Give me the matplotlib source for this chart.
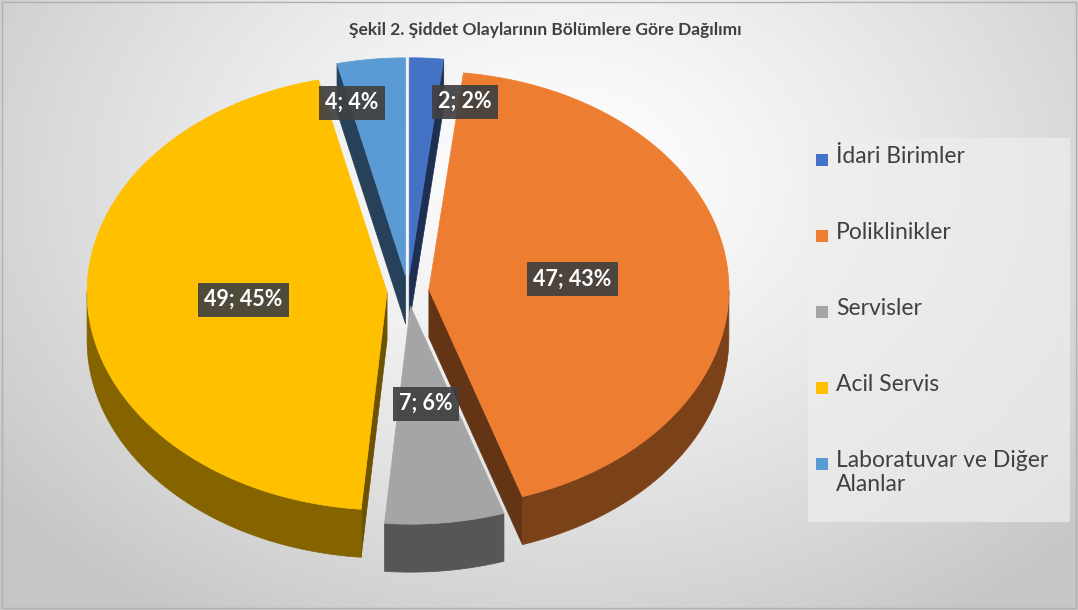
import numpy as np
import matplotlib
matplotlib.use("Agg")
import matplotlib.pyplot as plt
from matplotlib.colors import to_rgb
from matplotlib.patches import Polygon, Rectangle

# chart data
categories = ["İdari Birimler", "Poliklinikler", "Servisler", "Acil Servis", "Laboratuvar ve Diğer\nAlanlar"]
counts = [2, 47, 7, 49, 4]
colors = ["#4472C4", "#ED7D31", "#A5A5A5", "#FFC000", "#5B9BD5"]
title = "Şekil 2. Şiddet Olaylarının Bölümlere Göre Dağılımı"

# layout (pixels)
W, H = 1078, 610
CX, CY = 408, 291
RX, RY = 300, 218
DEPTH = 48
EXPLODE = 0.07
FONT = ["Lato", "DejaVu Sans"]


def darken(c, f):
    r, g, b = to_rgb(c)
    return (r * f, g * f, b * f)


def rim(theta, r, ox, oy, z=0.0):
    t = np.radians(theta)
    return CX + ox + r * RX * np.cos(t), CY + oy - r * RY * np.sin(t) + z


fig = plt.figure(figsize=(W / 100, H / 100), dpi=100)
ax = fig.add_axes([0, 0, 1, 1])
ax.set_xlim(0, W)
ax.set_ylim(H, 0)
ax.axis("off")

# background gradient
yy, xx = np.mgrid[0:H, 0:W]
d = np.sqrt(((xx - 560) / 700.0) ** 2 + ((yy - 180) / 520.0) ** 2)
shade = 1.0 - 0.22 * np.clip(d, 0, 1) ** 1.3
ax.imshow(np.dstack([shade] * 3), extent=(0, W, H, 0), zorder=0, aspect="auto")
ax.add_patch(Rectangle((2, 2), W - 4, H - 4, fill=False, ec="#B0B0B0", lw=1, zorder=1))

total = sum(counts)
starts = 90 - 360 * np.cumsum([0] + counts[:-1]) / total
ends = starts - 360 * np.array(counts) / total
mids = (starts + ends) / 2

# back-to-front drawing order
order = sorted(range(len(counts)), key=lambda i: -np.sin(np.radians(mids[i])))
for i in order:
    a0, a1, m = starts[i], ends[i], mids[i]
    ox = EXPLODE * RX * np.cos(np.radians(m))
    oy = -EXPLODE * RY * np.sin(np.radians(m))
    side = darken(colors[i], 0.42)
    wall = darken(colors[i], 0.52)
    # visible cut faces
    for a, vis in ((a0, np.cos(np.radians(a0)) < -1e-6), (a1, np.cos(np.radians(a1)) > 1e-6)):
        if vis:
            pts = [rim(a, 0, ox, oy), rim(a, 1, ox, oy), rim(a, 1, ox, oy, DEPTH), rim(a, 0, ox, oy, DEPTH)]
            ax.add_patch(Polygon(pts, closed=True, fc=side, ec=side, lw=0.5, zorder=2))
    # outer wall on the front half
    th = np.linspace(a1, a0, 300)
    front = th[np.sin(np.radians(th)) < 0]
    if len(front) > 1:
        tx, ty = rim(front, 1, ox, oy)
        bx, by = rim(front, 1, ox, oy, DEPTH)
        pts = np.column_stack([np.r_[tx, bx[::-1]], np.r_[ty, by[::-1]]])
        ax.add_patch(Polygon(pts, closed=True, fc=wall, ec=wall, lw=0.5, zorder=2))
    # top face
    px, py = rim(th, 1, ox, oy)
    cx0, cy0 = rim(m, 0, ox, oy)
    pts = np.column_stack([np.r_[cx0, px], np.r_[cy0, py]])
    ax.add_patch(Polygon(pts, closed=True, fc=colors[i], ec=colors[i], lw=0.5, zorder=2))

# data labels
label_r = [0.87, 0.55, 0.52, 0.55, 0.87]
label_dx = [42, 0, 0, 0, -26]
for i in range(len(counts)):
    m = mids[i]
    x, y = rim(m, label_r[i], 0, 0)
    pct = round(100 * counts[i] / total)
    ax.text(x + label_dx[i], y, f"{counts[i]}; {pct}%", ha="center", va="center",
            fontsize=15.5, fontweight="bold", color="white", family=FONT, zorder=5,
            bbox=dict(boxstyle="square,pad=0.3", fc="#404040", ec="none", alpha=0.92))

ax.text(545, 30, title, ha="center", va="center", fontsize=12.5, fontweight="bold",
        color="#404040", family=FONT, zorder=5)

# legend
ax.add_patch(Rectangle((808, 138), 262, 384, fc="#EEEEEE", ec="none", alpha=0.7, zorder=1))
for k, name in enumerate(categories):
    y = 160 + 76 * k
    ax.add_patch(Rectangle((816, y - 6), 12, 12, fc=colors[k], ec="none", zorder=3))
    ax.text(836, y - 14, name, ha="left", va="top", fontsize=16.5, color="#404040",
            family=FONT, linespacing=1.15, zorder=3)

fig.savefig("out.png", dpi=100)
